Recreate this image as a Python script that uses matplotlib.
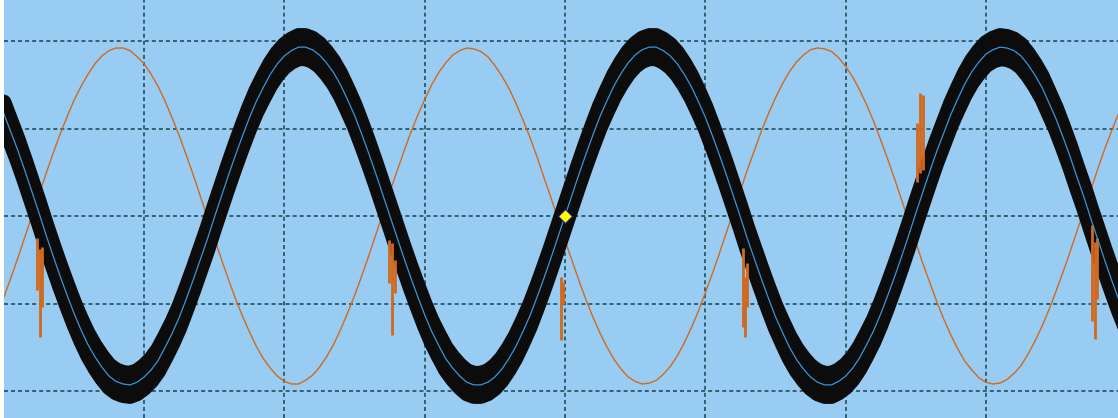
import numpy as np
import matplotlib
matplotlib.use("Agg")
import matplotlib.pyplot as plt

# scope screen, values in divisions (x: time div, y: volts div)
t = np.linspace(-4.0, 4.0, 161)

ch1 = [1.17, 0.96, 0.75, 0.52, 0.28, 0.04, -0.21, -0.45, -0.68, -0.90,
       -1.11, -1.30, -1.47, -1.61, -1.73, -1.83, -1.89, -1.92, -1.93, -1.90,
       -1.84, -1.76, -1.65, -1.50, -1.34, -1.16, -0.95, -0.73, -0.50, -0.27,
       -0.02, 0.22, 0.46, 0.69, 0.91, 1.12, 1.31, 1.47, 1.62, 1.74,
       1.83, 1.89, 1.93, 1.93, 1.90, 1.84, 1.75, 1.64, 1.50, 1.33,
       1.15, 0.94, 0.72, 0.49, 0.25, 0.01, -0.23, -0.47, -0.70, -0.92,
       -1.13, -1.32, -1.48, -1.63, -1.74, -1.83, -1.90, -1.93, -1.93, -1.90,
       -1.84, -1.75, -1.63, -1.49, -1.32, -1.14, -0.93, -0.71, -0.48, -0.24,
       0.00, 0.24, 0.48, 0.71, 0.93, 1.14, 1.32, 1.49, 1.63, 1.75,
       1.84, 1.90, 1.93, 1.93, 1.89, 1.83, 1.74, 1.62, 1.48, 1.31,
       1.13, 0.92, 0.70, 0.47, 0.23, -0.01, -0.26, -0.49, -0.72, -0.94,
       -1.15, -1.33, -1.50, -1.64, -1.75, -1.84, -1.90, -1.93, -1.93, -1.89,
       -1.83, -1.74, -1.62, -1.47, -1.31, -1.12, -0.91, -0.69, -0.46, -0.22,
       0.03, 0.27, 0.51, 0.74, 0.95, 1.16, 1.34, 1.51, 1.65, 1.76,
       1.85, 1.90, 1.93, 1.92, 1.89, 1.83, 1.73, 1.61, 1.47, 1.29,
       1.11, 0.90, 0.68, 0.44, 0.21, -0.04, -0.28, -0.52, -0.75, -0.97,
       -1.17]

ch2 = [-0.93, -0.71, -0.48, -0.24, 0.00, 0.24, 0.48, 0.71, 0.93, 1.13,
       1.32, 1.48, 1.62, 1.74, 1.83, 1.89, 1.92, 1.92, 1.89, 1.82,
       1.74, 1.62, 1.48, 1.31, 1.12, 0.92, 0.70, 0.47, 0.23, -0.01,
       -0.25, -0.49, -0.72, -0.94, -1.14, -1.32, -1.49, -1.63, -1.74, -1.83,
       -1.89, -1.92, -1.92, -1.88, -1.82, -1.73, -1.61, -1.47, -1.30, -1.11,
       -0.91, -0.69, -0.46, -0.22, 0.02, 0.27, 0.50, 0.73, 0.95, 1.15,
       1.33, 1.50, 1.64, 1.75, 1.84, 1.89, 1.92, 1.91, 1.88, 1.82,
       1.72, 1.60, 1.46, 1.29, 1.10, 0.90, 0.68, 0.44, 0.21, -0.04,
       -0.28, -0.51, -0.74, -0.96, -1.16, -1.34, -1.50, -1.64, -1.75, -1.84,
       -1.89, -1.92, -1.91, -1.88, -1.81, -1.72, -1.60, -1.45, -1.28, -1.09,
       -0.88, -0.66, -0.43, -0.19, 0.05, 0.29, 0.53, 0.75, 0.97, 1.17,
       1.35, 1.51, 1.65, 1.76, 1.84, 1.90, 1.92, 1.91, 1.88, 1.81,
       1.71, 1.59, 1.44, 1.27, 1.08, 0.87, 0.65, 0.42, 0.18, -0.06,
       -0.30, -0.54, -0.76, -0.98, -1.18, -1.36, -1.52, -1.66, -1.76, -1.85,
       -1.90, -1.92, -1.91, -1.87, -1.80, -1.71, -1.58, -1.43, -1.26, -1.07,
       -0.86, -0.64, -0.41, -0.17, 0.07, 0.31, 0.55, 0.78, 0.99, 1.19,
       1.37]

# glitches on ch2 near the crossings
spike_t = [-3.765, -3.745, -3.728, -1.254, -1.233, -1.212, -0.025, -0.012,
           1.269, 1.283, 1.297, 2.509, 2.530, 2.552, 3.756, 3.778, 3.792]
spike_lo = [-0.85, -1.38, -1.04, -0.77, -1.36, -0.88, -1.42, -1.00,
            -1.27, -1.38, -1.04, 0.39, 0.49, 0.53, -1.20, -1.41, -0.95]
spike_hi = [-0.25, -0.38, -0.35, -0.27, -0.31, -0.50, -0.70, -0.75,
            -0.37, -0.70, -0.54, 1.06, 1.41, 1.38, -0.10, -0.30, -0.25]

noise = 0.13  # half height of the ch1 noise band
trig_t, trig_v = 0.0, 0.0

fig = plt.figure(figsize=(11.18, 4.18), dpi=100, facecolor='white')
ax = fig.add_axes([4 / 1118, 0, 1114 / 1118, 1])
ax.set_facecolor('#99ccf3')

ch1 = np.array(ch1)
ax.plot(t, ch2, color='#d2691e', lw=1.0, zorder=2)
band = ax.fill_between(t, ch1 - noise, ch1 + noise, color='#0c0c0c',
                       lw=11, zorder=3)
band.set_joinstyle('round')
ax.vlines(spike_t, spike_lo, spike_hi, color='#d2691e', lw=2.0, zorder=4)
ax.plot(t, ch1, color='#3a95d8', lw=0.9, zorder=5)
ax.plot([trig_t], [trig_v], marker='D', ms=7.5, color='#ffff00',
        mec='#1a1a90', mew=0.8, zorder=6)

for gx in range(-3, 4):
    ax.axvline(gx, color='#2a5866', lw=1.3, ls=(0, (2.2, 1.7)), zorder=1)
for gy in range(-2, 3):
    ax.axhline(gy, color='#2a5866', lw=1.3, ls=(0, (2.2, 1.7)), zorder=1)

ax.set_xlim((4 - 565) / 140.3, (1118 - 565) / 140.3)
ax.set_ylim((216 - 418) / 87.5, 216 / 87.5)
ax.set_xticks([])
ax.set_yticks([])
for s in ax.spines.values():
    s.set_visible(False)

fig.savefig('out.png', dpi=100, facecolor='white')
